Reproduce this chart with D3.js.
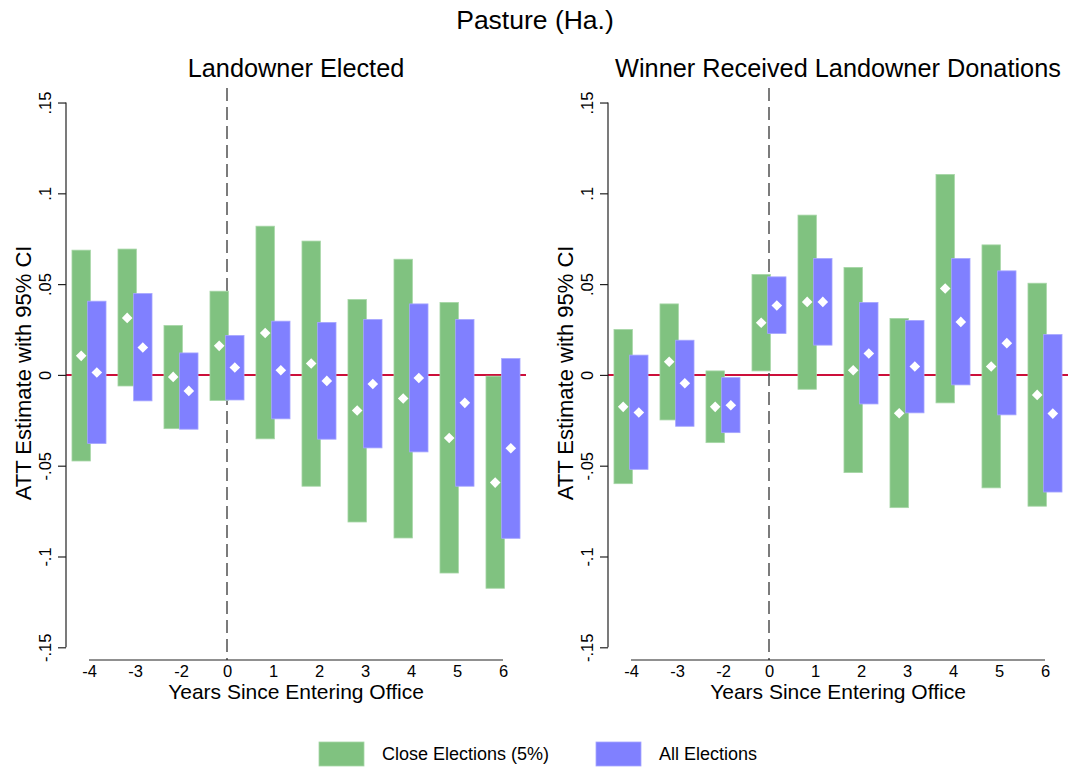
<!DOCTYPE html>
<html>
<head>
<meta charset="utf-8">
<script src="https://cdn.jsdelivr.net/npm/d3@7"></script>
<style>
  html, body { margin: 0; padding: 0; background: #fff; }
  svg { display: block; font-family: "Liberation Sans", Arial, sans-serif; }
</style>
</head>
<body>
<svg id="chart" width="1068" height="769"></svg>
<script>
// ---------- data ----------
const years = ["-4", "-3", "-2", "0", "1", "2", "3", "4", "5", "6"];
const yTicks = [-0.15, -0.1, -0.05, 0, 0.05, 0.1, 0.15];
const yTickLabels = ["-.15", "-.1", "-.05", "0", ".05", ".1", ".15"];
const panelTitles = ["Landowner Elected", "Winner Received Landowner Donations"];
const seriesNames = ["Close Elections (5%)", "All Elections"];

// Panel 1: Landowner Elected
const p1CloseEst = [0.0105, 0.0314, -0.0011, 0.0160, 0.0231, 0.0063, -0.0196, -0.0130, -0.0347, -0.0593];
const p1CloseLo  = [-0.0474, -0.0061, -0.0296, -0.0141, -0.0352, -0.0613, -0.0810, -0.0898, -0.1091, -0.1175];
const p1CloseHi  = [0.0687, 0.0693, 0.0272, 0.0461, 0.0819, 0.0737, 0.0415, 0.0637, 0.0399, -0.0007];
const p1AllEst   = [0.0013, 0.0151, -0.0088, 0.0041, 0.0026, -0.0033, -0.0050, -0.0017, -0.0154, -0.0404];
const p1AllLo    = [-0.0378, -0.0143, -0.0299, -0.0138, -0.0242, -0.0354, -0.0402, -0.0424, -0.0613, -0.0900];
const p1AllHi    = [0.0406, 0.0448, 0.0121, 0.0217, 0.0296, 0.0289, 0.0305, 0.0391, 0.0305, 0.0090];

// Panel 2: Winner Received Landowner Donations
const p2CloseEst = [-0.0176, 0.0072, -0.0176, 0.0287, 0.0402, 0.0026, -0.0211, 0.0476, 0.0046, -0.0110];
const p2CloseLo  = [-0.0599, -0.0248, -0.0373, 0.0022, -0.0079, -0.0538, -0.0731, -0.0154, -0.0622, -0.0723];
const p2CloseHi  = [0.0250, 0.0391, 0.0022, 0.0553, 0.0880, 0.0592, 0.0311, 0.1104, 0.0716, 0.0505];
const p2AllEst   = [-0.0207, -0.0046, -0.0167, 0.0382, 0.0402, 0.0118, 0.0046, 0.0292, 0.0175, -0.0213];
const p2AllLo    = [-0.0520, -0.0283, -0.0318, 0.0228, 0.0164, -0.0160, -0.0209, -0.0055, -0.0220, -0.0645];
const p2AllHi    = [0.0109, 0.0191, -0.0015, 0.0540, 0.0641, 0.0399, 0.0300, 0.0641, 0.0573, 0.0222];

// ---------- style ----------
const GREEN = "#80c280", GREEN_EDGE = "#a6d6a6";
const BLUE = "#8080ff", BLUE_EDGE = "#a6a6ff";
const RED = "#cc0f3a";
const FONT = '"Liberation Sans", Arial, sans-serif';

const svg = d3.select("#chart");

svg.append("text")
  .attr("x", 535).attr("y", 29)
  .attr("text-anchor", "middle")
  .attr("font-size", 26.5).attr("fill", "#000")
  .text("Pasture (Ha.)");

const panels = [
  { left: 66, right: 526, title: panelTitles[0],
    close: { est: p1CloseEst, lo: p1CloseLo, hi: p1CloseHi },
    all: { est: p1AllEst, lo: p1AllLo, hi: p1AllHi } },
  { left: 608, right: 1068, title: panelTitles[1],
    close: { est: p2CloseEst, lo: p2CloseLo, hi: p2CloseHi },
    all: { est: p2AllEst, lo: p2AllLo, hi: p2AllHi } }
];

const plotTop = 88, plotBottom = 660;
const y = d3.scaleLinear().domain([-0.157, 0.158]).range([plotBottom, plotTop]);

panels.forEach(p => {
  const x = d3.scaleLinear().domain([-0.5, years.length - 0.5]).range([p.left, p.right]);
  const g = svg.append("g");
  const unit = x(1) - x(0);
  const bw = unit * 0.4;
  const off = unit * 0.17;

  // panel title
  g.append("text")
    .attr("x", (p.left + p.right) / 2).attr("y", 77)
    .attr("text-anchor", "middle").attr("font-size", 25.3)
    .text(p.title);

  // zero line
  g.append("line")
    .attr("x1", p.left).attr("x2", p.right)
    .attr("y1", y(0)).attr("y2", y(0))
    .attr("stroke", RED).attr("stroke-width", 2);

  // vertical dashed line at year 0
  const zeroIdx = years.indexOf("0");
  g.append("line")
    .attr("x1", x(zeroIdx)).attr("x2", x(zeroIdx))
    .attr("y1", plotTop).attr("y2", plotBottom)
    .attr("stroke", "#444").attr("stroke-width", 1.4)
    .attr("stroke-dasharray", "13,6");

  // bars: close (green) then all (blue)
  const mk = (s, dx, fill, edge) => {
    g.append("g").selectAll("rect")
      .data(years.map((d, i) => ({ i, lo: s.lo[i], hi: s.hi[i] })))
      .join("rect")
      .attr("x", d => x(d.i) + dx - bw / 2)
      .attr("width", bw)
      .attr("y", d => y(d.hi))
      .attr("height", d => y(d.lo) - y(d.hi))
      .attr("fill", fill)
      .attr("stroke", edge).attr("stroke-width", 0.8);
  };
  mk(p.close, -off, GREEN, GREEN_EDGE);
  mk(p.all, off, BLUE, BLUE_EDGE);

  // diamonds
  const diamond = d3.symbol().type(d3.symbolSquare).size(56);
  const pts = (s, dx) => {
    g.append("g").selectAll("path")
      .data(years.map((d, i) => ({ i, v: s.est[i] })))
      .join("path")
      .attr("d", diamond)
      .attr("transform", d => `translate(${x(d.i) + dx},${y(d.v)}) rotate(45)`)
      .attr("fill", "#fff");
  };
  pts(p.close, -off);
  pts(p.all, off);

  // y axis
  const ya = g.append("g").attr("transform", `translate(${p.left},0)`)
    .call(d3.axisLeft(y).tickValues(yTicks).tickSize(8).tickPadding(0)
      .tickFormat((d, i) => yTickLabels[i]));
  ya.select(".domain").attr("stroke", "#222").attr("stroke-width", 1.2)
    .attr("d", `M0,${y(0.15)}V${y(-0.15)}`);
  ya.selectAll(".tick line").attr("stroke", "#222").attr("stroke-width", 1.2);
  ya.selectAll(".tick text")
    .attr("font-size", 16.5).attr("font-family", FONT).attr("fill", "#000")
    .attr("text-anchor", "middle").attr("dy", null)
    .attr("x", 0).attr("y", 0)
    .attr("transform", "translate(-21,0) rotate(-90)")
    .attr("dominant-baseline", "central");

  // x axis
  const xa = g.append("g").attr("transform", `translate(0,${plotBottom})`)
    .call(d3.axisBottom(x).tickValues(d3.range(years.length)).tickSize(0).tickPadding(5)
      .tickFormat(i => years[i]));
  xa.select(".domain").attr("stroke", "#222").attr("stroke-width", 1.2)
    .attr("d", `M${x(0)},0H${x(years.length - 1)}`);
  xa.selectAll(".tick text").attr("font-size", 16.5).attr("font-family", FONT).attr("fill", "#000");

  // axis titles
  g.append("text")
    .attr("transform", `translate(${p.left - 35},${y(0) - 2}) rotate(-90)`)
    .attr("text-anchor", "middle").attr("font-size", 22)
    .text("ATT Estimate with 95% CI");
  g.append("text")
    .attr("x", (x(0) + x(years.length - 1)) / 2).attr("y", 699)
    .attr("text-anchor", "middle").attr("font-size", 21)
    .text("Years Since Entering Office");
});

// legend
const legend = svg.append("g");
const legendItems = [
  { name: seriesNames[0], fill: GREEN, edge: GREEN_EDGE, x: 319 },
  { name: seriesNames[1], fill: BLUE, edge: BLUE_EDGE, x: 596 }
];
legendItems.forEach(l => {
  legend.append("rect").attr("x", l.x).attr("y", 742).attr("width", 45).attr("height", 24)
    .attr("fill", l.fill).attr("stroke", l.edge).attr("stroke-width", 0.8);
  legend.append("text").attr("x", l.x + 63).attr("y", 760).attr("font-size", 18).text(l.name);
});
</script>
</body>
</html>
